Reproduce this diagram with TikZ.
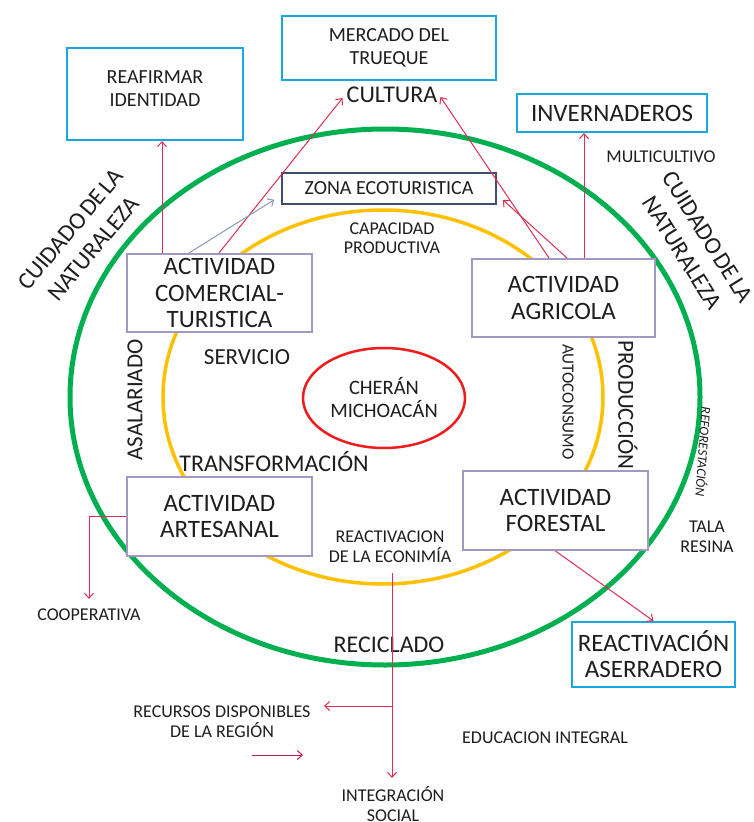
\documentclass[tikz,border=0pt]{standalone}
\usepackage{fontspec}
\setmainfont{Carlito}
\usetikzlibrary{arrows.meta,calc,shapes.geometric}
\definecolor{cgreen}{HTML}{00B050}
\definecolor{cyellow}{HTML}{FFC000}
\definecolor{cred}{HTML}{EE1C1C}
\definecolor{ccyan}{HTML}{1CA6DF}
\definecolor{clav}{HTML}{A09AC0}
\definecolor{czona}{HTML}{3F4F6B}
\definecolor{carr}{HTML}{DC2F55}
\definecolor{cdarr}{HTML}{B8204A}
\definecolor{cgarr}{HTML}{8A9BB8}
\definecolor{ctext}{HTML}{1E1E1E}
\newcommand\myfs[2]{\fontsize{#1}{#2}\selectfont}
\newcommand\tsp{\hspace{0.12em}}
\tikzset{
  txt/.style={text=ctext, align=center, inner sep=0pt},
  actbox/.style={draw=clav, line width=2pt, fill=white, minimum width=185pt, minimum height=79pt,
    inner sep=0pt, align=center, text=ctext, font=\myfs{25}{26.5}},
  cyanbox/.style={draw=ccyan, line width=2pt, fill=white, inner sep=0pt, align=center, text=ctext},
  redarr/.style={draw=carr, line width=1pt, -{Straight Barb[length=5pt,width=9pt]}},
  darkarr/.style={draw=cdarr, line width=1pt, -{Straight Barb[length=5pt,width=9pt]}},
  grayarr/.style={draw=cgarr, line width=1pt, -{Straight Barb[length=5pt,width=9pt]}}
}
\begin{document}
\begin{tikzpicture}[x=1pt,y=-1pt]
\fill[white] (0,0) rectangle (753,822);
\useasboundingbox (0,0) rectangle (753,822);
% rings
\draw[cgreen, line width=5pt] (385,397) ellipse [x radius=315pt, y radius=268pt];
\draw[cyellow, line width=3.5pt] (383,397) ellipse [x radius=220pt, y radius=187pt];
\node[draw=cred, line width=2.5pt, ellipse, minimum width=162pt, minimum height=100pt, inner sep=0pt,
  align=center, text=ctext, font=\myfs{20.5}{23}] (cheran) at (384,398) {CHERÁN\\MICHOACÁN};
% boxes
\node[cyanbox, minimum width=176pt, minimum height=92pt] (reafbox) at (155,94) {};
\node[txt, font=\myfs{20}{23}] (reaf) at (155,88.5) {REAFIRMAR\\IDENTIDAD};
\node[cyanbox, minimum width=214pt, minimum height=64pt, font=\myfs{20}{23}] (merc) at (389,48) {MERCADO DEL\\TRUEQUE};
\node[txt, font=\myfs{24}{28}] (cult) at (392,95) {CULTURA};
\node[cyanbox, minimum width=190pt, minimum height=38pt, font=\myfs{25}{28}] (inv) at (612,113) {INVERNADEROS};
\node[draw=czona, line width=1.5pt, fill=white, minimum width=214pt, minimum height=31pt, inner sep=0pt,
  text=ctext, font=\myfs{20}{23}] (zona) at (389,188.5) {ZONA ECOTURISTICA};
\node[actbox, minimum height=78pt] (come) at (219.5,293) {ACTIVIDAD\\COMERCIAL-\\TURISTICA};
\node[actbox, minimum height=78pt, minimum width=183pt] (agri) at (563.5,298) {ACTIVIDAD\\AGRICOLA};
\node[actbox] (fore) at (555.5,510.5) {ACTIVIDAD\\FORESTAL};
\node[actbox] (arte) at (219.5,516.5) {ACTIVIDAD\\ARTESANAL};
\node[cyanbox, minimum width=163pt, minimum height=65pt, font=\myfs{25}{26}] (aserr) at (653.5,654.5) {REACTIVACIÓN\\ASERRADERO};
% labels
\node[txt, font=\myfs{18}{20}] (multi) at (661,157) {MULTICULTIVO};
\node[txt, font=\myfs{18}{19.5}] (capac) at (392,238) {CAPACIDAD\\PRODUCTIVA};
\node[txt, font=\myfs{23}{26}] (serv) at (247,357) {SERVICIO};
\node[txt, font=\myfs{24}{26}] (transf) at (274,462) {TRANSFORMACIÓN};
\node[txt, font=\myfs{23}{26}, rotate=90] (asal) at (135,400) {ASALARIADO};
\node[txt, font=\myfs{23}{26}, rotate=-90] (produc) at (628,405) {PRODUCCIÓN};
\node[txt, font=\myfs{17}{20}, rotate=-90] (autoc) at (568,402) {AUTOCONSUMO};
\node[txt, font=\myfs{13.5}{16}\itshape, rotate=-94] (refor) at (704,452) {REFORESTACIÓN};
\node[txt, font=\myfs{18}{20}] (tala) at (707,537) {TALA\\RESINA};
\node[txt, font=\myfs{18}{20}] (econ) at (390,547) {REACTIVACION\\DE LA ECONIMÍA};
\node[txt, font=\myfs{24}{26}] (recic) at (389,645) {RECICLADO};
\node[txt, font=\myfs{18}{20}] (coop) at (89,615) {COOPERATIVA};
\node[txt, font=\myfs{18}{20}] (recur) at (222,722) {RECURSOS DISPONIBLES\\DE LA REGIÓN};
\node[txt, font=\myfs{18}{20}] (educ) at (545,738) {EDUCACION INTEGRAL};
\node[txt, font=\myfs{18}{20}] (integ) at (393,804) {INTEGRACIÓN\\SOCIAL};
\node[txt, font=\myfs{24}{30}, rotate=50] (cuidL) at (82,239) {CUIDADO\tsp DE\tsp LA\\NATURALEZA};
\node[txt, font=\myfs{24}{30}, rotate=-58] (cuidR) at (695,245) {CUIDADO\tsp DE\tsp LA\\NATURALEZA};
% connectors
\coordinate (c1) at ([xshift=36pt]come.north west);
\draw[redarr] (c1) -- (c1 |- reafbox.south);
\coordinate (c2) at ([xshift=93pt]come.north west);
\draw[redarr] (c2) -- ([xshift=-4pt,yshift=-3pt]cult.west);
\coordinate (c6) at ([xshift=63pt]come.north west);
\draw[grayarr] (c6) -- ([xshift=-7pt,yshift=5pt]zona.south west);
\coordinate (c3) at ([xshift=78pt]agri.north west);
\draw[redarr] (c3) -- ([xshift=3pt,yshift=-2pt]cult.east);
\coordinate (c4) at ([xshift=96pt]agri.north west);
\draw[redarr] (c4) -- ([xshift=6pt,yshift=5pt]zona.south east);
\coordinate (c5) at ([xshift=113pt]agri.north west);
\draw[redarr] (c5) -- (c5 |- inv.south);
\draw[redarr] (fore.south) -- (aserr.north);
\draw[redarr] (arte.west) -| ([yshift=10pt]coop.north);
\coordinate (vtop) at (392,573);
\coordinate (vbr) at (392,706);
\coordinate (vbot) at (392,778);
\coordinate (rtip) at (324,706);
\draw[redarr] (vtop) -- (vbot);
\draw[redarr] (vbr) -- (rtip);
\coordinate (fa) at (252,755);
\coordinate (fb) at (303,755);
\draw[darkarr] (fa) -- (fb);
\end{tikzpicture}
\end{document}
